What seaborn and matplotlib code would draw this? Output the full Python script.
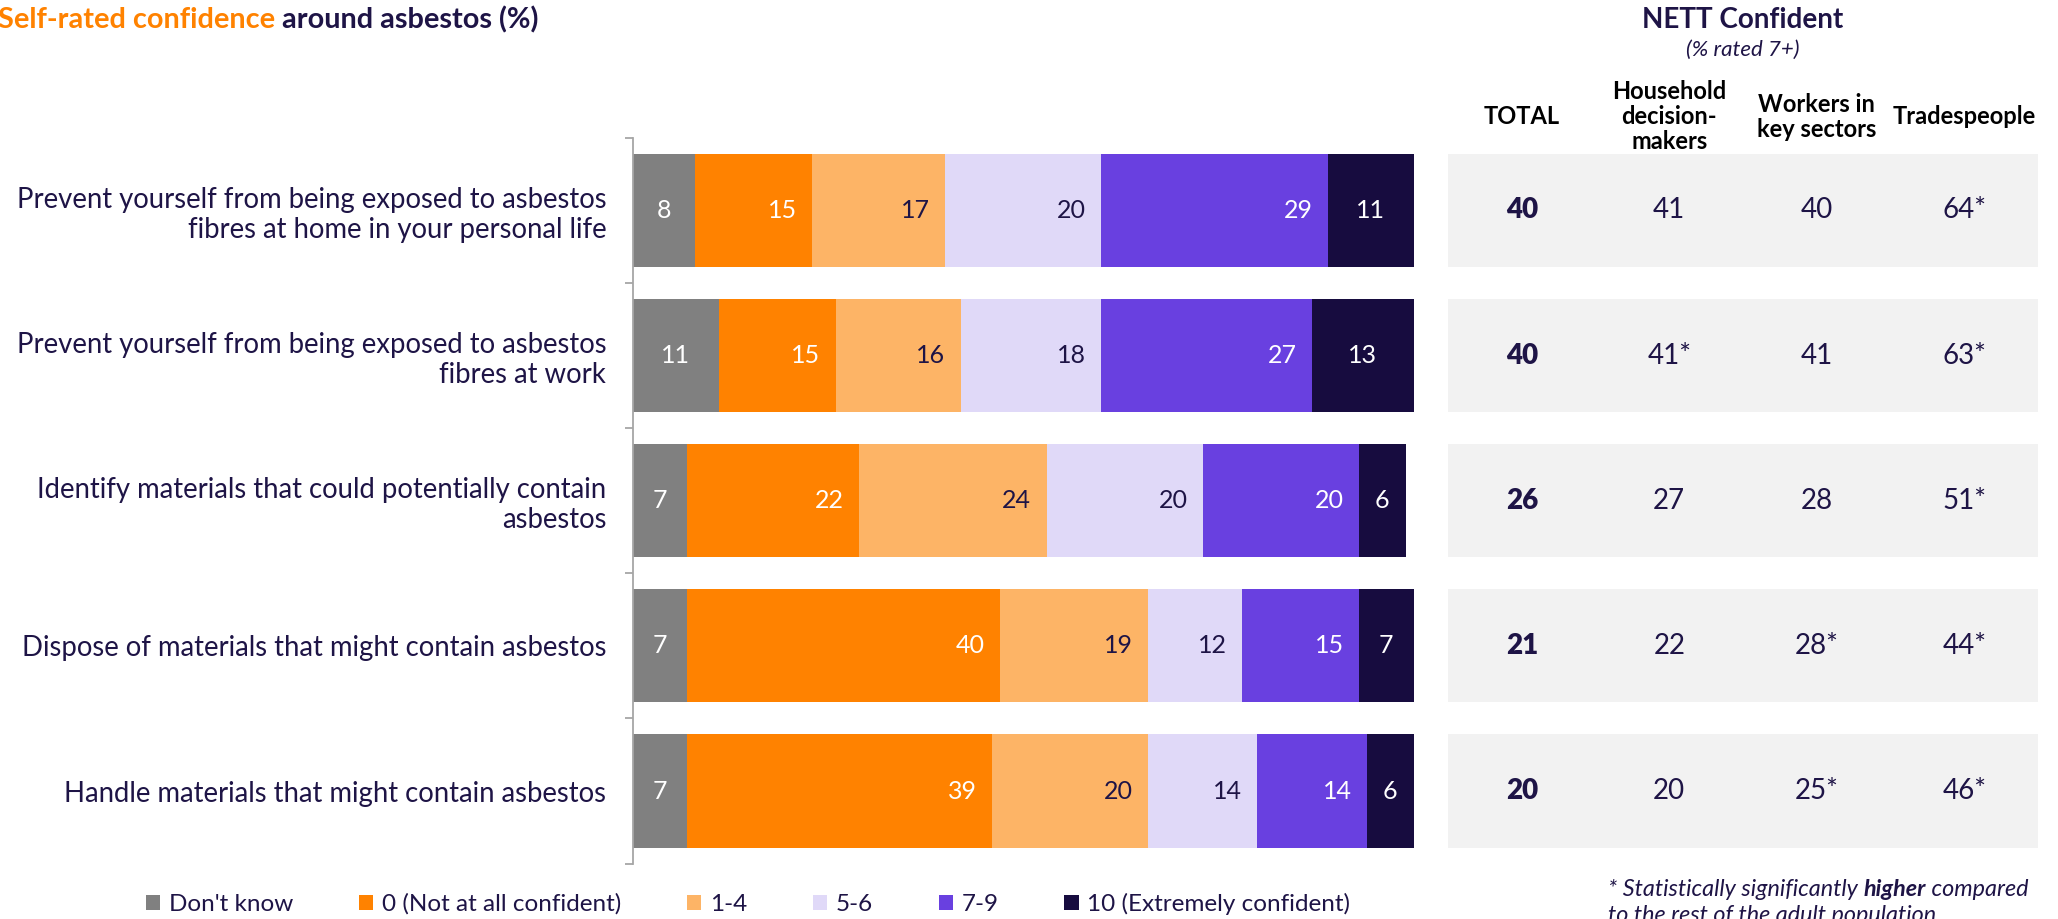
import numpy as np
import pandas as pd
import matplotlib
matplotlib.use("Agg")
import matplotlib.pyplot as plt
from matplotlib.patches import Patch
from matplotlib import font_manager as fm
from matplotlib.transforms import blended_transform_factory
import seaborn as sns

# ---- data ---------------------------------------------------------------
statements = [
    "Prevent yourself from being exposed to asbestos\nfibres at home in your personal life",
    "Prevent yourself from being exposed to asbestos\nfibres at work",
    "Identify materials that could potentially contain\nasbestos",
    "Dispose of materials that might contain asbestos",
    "Handle materials that might contain asbestos",
]
ratings = ["Don't know", "0 (Not at all confident)", "1-4", "5-6", "7-9",
           "10 (Extremely confident)"]
dont_know = [8, 11, 7, 7, 7]
score_0 = [15, 15, 22, 40, 39]
score_1_4 = [17, 16, 24, 19, 20]
score_5_6 = [20, 18, 20, 12, 14]
score_7_9 = [29, 27, 20, 15, 14]
score_10 = [11, 13, 6, 7, 6]

groups = ["TOTAL", "Household\ndecision-\nmakers", "Workers in\nkey sectors",
          "Tradespeople"]
nett_total = ["40", "40", "26", "21", "20"]
nett_household = ["41", "41*", "27", "22", "20"]
nett_workers = ["40", "41", "28", "28*", "25*"]
nett_trades = ["64*", "63*", "51*", "44*", "46*"]

# ---- style --------------------------------------------------------------
colors = ["#808080", "#FF8200", "#FDB466", "#E0D9F8", "#6940E0", "#170C3F"]
label_colors = ["white", "white", "#1E1446", "#1E1446", "white", "white"]
NAVY = "#1E1446"
ORANGE = "#FF8200"

names = {f.name for f in fm.fontManager.ttflist}


def pick(*cands):
    for c in cands:
        if c in names:
            return c
    return "DejaVu Sans"


BASE = pick("Lato", "Open Sans", "DejaVu Sans")

sns.set_theme(style="white")
plt.rcParams["font.family"] = [BASE, "DejaVu Sans"]

fig = plt.figure(figsize=(20.58, 9.19), dpi=100)
ax = fig.add_axes([0.3074, 0.0603, 0.3795, 0.7898])

series = [dont_know, score_0, score_1_4, score_5_6, score_7_9, score_10]
vals = np.array(series, dtype=float)
cum = vals.cumsum(axis=0)
df = pd.DataFrame({"statement": statements})
for k, r in enumerate(ratings):
    df[r] = cum[k]

# stacked bars: draw cumulative totals from the widest down
for k in reversed(range(len(ratings))):
    sns.barplot(data=df, x=ratings[k], y="statement", orient="h",
                color=colors[k], saturation=1, width=0.78, linewidth=0,
                errorbar=None, ax=ax)

for k in range(len(ratings)):
    for i in range(len(statements)):
        v = vals[k, i]
        right = cum[k, i]
        if k in (0, len(ratings) - 1):
            x, ha, off = right - v / 2, "center", 0
        else:
            x, ha, off = right, "right", -11
        ax.annotate(f"{v:g}", (x, i), xytext=(off, 0),
                    textcoords="offset points", ha=ha, va="center",
                    color=label_colors[k], fontsize=18)

ax.set_xlim(0, 100)
ax.set_ylim(4.5, -0.5)
ax.set_xlabel("")
ax.set_ylabel("")
ax.xaxis.set_visible(False)
for s in ["top", "right", "bottom"]:
    ax.spines[s].set_visible(False)
ax.spines["left"].set_color("#A6A6A6")
ax.spines["left"].set_linewidth(1.3)
ax.set_yticks(range(len(statements)))
ax.set_yticklabels(statements, fontsize=19.8, color=NAVY, linespacing=1.2)
ax.set_yticks(np.arange(-0.5, len(statements)), minor=True)
ax.tick_params(axis="y", which="major", length=0, pad=19)
ax.tick_params(axis="y", which="minor", length=6, color="#A6A6A6", width=1.3,
               left=True)

# ---- NETT confident table ----------------------------------------------
tx = fig.add_axes([0.7036, 0.0603, 0.2867, 0.7898])
tx.barh(range(len(statements)), 1, left=0, height=0.78, color="#F2F2F2",
        linewidth=0)
tx.set_xlim(0, 1)
tx.set_ylim(4.5, -0.5)
tx.axis("off")

columns = [nett_total, nett_household, nett_workers, nett_trades]
col_x = [0.125 + 0.25 * j for j in range(len(columns))]
for j, col in enumerate(columns):
    for i, v in enumerate(col):
        tx.text(col_x[j], i, v, ha="center", va="center", fontsize=20,
                color=NAVY, fontweight="heavy" if j == 0 else "normal")

hdr = blended_transform_factory(tx.transData, fig.transFigure)
for j, g in enumerate(groups):
    tx.text(col_x[j], 0.873, g, transform=hdr, ha="center", va="center",
            multialignment="center", fontsize=17, fontweight="bold",
            color="black", linespacing=1.1)
tx.text(0.5, 0.9786, "NETT Confident", transform=hdr, ha="center",
        va="center", fontsize=20, fontweight="bold", color=NAVY)
tx.text(0.5, 0.9457, "(% rated 7+)", transform=hdr, ha="center",
        va="center", fontsize=16, style="italic", color=NAVY)

# ---- title ----------------------------------------------------------------
t1 = fig.text(-0.001, 0.978, "Self-rated confidence", ha="left", va="center",
              fontsize=20.8, fontweight="bold", color=ORANGE)
ax.annotate(" around asbestos (%)", xy=(1, 0), xycoords=t1, va="bottom",
            ha="left", fontsize=20.8, fontweight="bold", color=NAVY,
            annotation_clip=False)

# ---- footnote -------------------------------------------------------------
f1 = fig.text(0.7813, 0.0316, "* Statistically significantly ", ha="left",
              va="center", fontsize=16.8, style="italic", color=NAVY)
f2 = ax.annotate("higher", xy=(1, 0), xycoords=f1, va="bottom", ha="left",
                 fontsize=16.8, style="italic", fontweight="bold", color=NAVY,
                 annotation_clip=False)
ax.annotate(" compared", xy=(1, 0), xycoords=f2, va="bottom", ha="left",
            fontsize=16.8, style="italic", color=NAVY, annotation_clip=False)
fig.text(0.7813, 0.004, "to the rest of the adult population", ha="left",
         va="center", fontsize=16.8, style="italic", color=NAVY)

# ---- legend ---------------------------------------------------------------
handles = [Patch(facecolor=c, edgecolor="none", label=r)
           for c, r in zip(colors, ratings)]
fig.legend(handles=handles, loc="center", bbox_to_anchor=(0.3635, 0.0163),
           ncol=len(ratings), frameon=False, fontsize=17.5,
           handlelength=0.6, handleheight=0.6, handletextpad=0.35,
           columnspacing=2.7, labelcolor=NAVY)

fig.savefig("out.png", dpi=100)
